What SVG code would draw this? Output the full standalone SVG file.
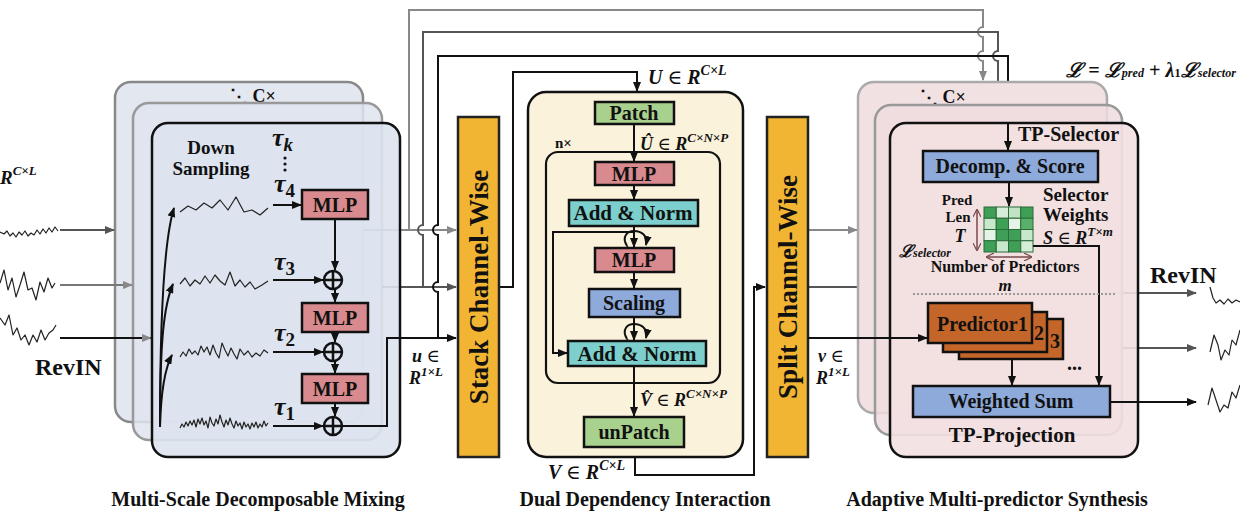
<svg xmlns="http://www.w3.org/2000/svg" width="1240" height="528" viewBox="0 0 1240 528">
<defs>
<marker id="ab" markerWidth="10" markerHeight="8" refX="9" refY="4" orient="auto" markerUnits="userSpaceOnUse"><path d="M0,0 L10,4 L0,8 z" fill="#111"/></marker>
<marker id="ag" markerWidth="10" markerHeight="8" refX="9" refY="4" orient="auto" markerUnits="userSpaceOnUse"><path d="M0,0 L10,4 L0,8 z" fill="#888"/></marker>
<marker id="ad" markerWidth="10" markerHeight="8" refX="9" refY="4" orient="auto" markerUnits="userSpaceOnUse"><path d="M0,0 L10,4 L0,8 z" fill="#555"/></marker>
<marker id="abr" markerWidth="8" markerHeight="8" refX="7" refY="4" orient="auto" markerUnits="userSpaceOnUse"><path d="M0,0 L8,4 L0,8" fill="none" stroke="#7a4a4a" stroke-width="1.2"/></marker>
<marker id="abs" markerWidth="8" markerHeight="8" refX="7" refY="4" orient="auto-start-reverse" markerUnits="userSpaceOnUse"><path d="M0,0 L8,4 L0,8" fill="none" stroke="#7a4a4a" stroke-width="1.2"/></marker>
<style>
.t{font-family:"Liberation Serif","Times New Roman",serif;font-weight:bold;fill:#111}
.m{font-family:"Liberation Serif","DejaVu Serif",serif;font-weight:bold;font-style:italic;fill:#111}
.c{text-anchor:middle}
.w{fill:none;stroke-width:2}
.k{stroke:#111}
.g{stroke:#888}
.d{stroke:#555}
.wave{fill:none;stroke:#222;stroke-width:1.2;stroke-linejoin:round}
.mlp{fill:#d98a8e;stroke:#111;stroke-width:2.5}
.grn{fill:#a9d18e;stroke:#111;stroke-width:2.5}
.teal{fill:#7ccfcc;stroke:#111;stroke-width:2.5}
.blu{fill:#8eaadb;stroke:#111;stroke-width:2.5}
.org{fill:#f2b533;stroke:#222;stroke-width:2.5}
.pred{fill:#c4662a;stroke:#111;stroke-width:2.5}
.sum{fill:none;stroke:#111;stroke-width:2.5}
</style>
</defs>

<g id="inputs">
<polyline class="wave" stroke-width="1.5" points="0,232 4,234 7,231 10,236 13,233 16,237 19,232 22,235 25,231 28,236 31,233 34,235 37,230 40,234 43,229 46,233 49,228 52,232 55,227 58,231"/>
<polyline class="wave" stroke-width="1.5" points="0,283 4,270 8,290 12,278 16,297 20,285 24,272 28,290 32,288 36,300 40,282 44,292 48,278 52,288 55,283"/>
<polyline class="wave" stroke-width="1.5" points="0,318 5,325 9,315 13,335 17,328 21,340 25,335 29,345 33,335 37,342 41,330 45,340 49,333 53,330 56,325"/>
<text class="m" x="0" y="184" font-size="19" font-weight="normal">R<tspan font-size="13" dy="-9">C×L</tspan></text>
<text class="t" x="35" y="375" font-size="24">RevIN</text>
</g>

<g id="left-back">
<rect x="115" y="82" width="248" height="340" rx="16" fill="#e3e7ef" stroke="#888" stroke-width="2.5"/>
<text class="t" x="230" y="102" font-size="18">⋱ C×</text>
</g>
<g id="left-mid">
<rect x="133" y="103" width="249" height="337" rx="16" fill="#dfe4ee" fill-opacity="0.85" stroke="#999" stroke-width="2.5"/>
</g>

<g id="connectors">
<line x1="60" y1="230" x2="114" y2="230" class="w d" marker-end="url(#ad)"/>
<line x1="60" y1="285" x2="132" y2="285" stroke="#777" stroke-width="2" marker-end="url(#ag)"/>
<line x1="60" y1="338" x2="151" y2="338" class="w k" marker-end="url(#ag)"/>
<line x1="363" y1="230" x2="456" y2="230" class="w g" marker-end="url(#ag)"/>
<line x1="382" y1="287" x2="456" y2="287" class="w d" marker-end="url(#ad)"/>
<path d="M409,230 V10 H983 V27 A5,5 0 0 0 983,37 V51 A5,5 0 0 0 983,61 V80" class="w g" marker-end="url(#ag)"/>
<path d="M423,287 V235 A5,5 0 0 1 423,225 V32 H998 V51 A5,5 0 0 0 998,61 V102" class="w d" marker-end="url(#ad)"/>
<path d="M438,338 V292 A5,5 0 0 1 438,282 V235 A5,5 0 0 1 438,225 V56 H1008 V150" class="w k" marker-end="url(#ab)"/>
<path d="M499,287 H513 V72 H637 V91" class="w k" marker-end="url(#ab)"/>
<path d="M635,447 V475 H754 V287 H765" class="w k" marker-end="url(#ab)"/>
<line x1="808" y1="230" x2="857" y2="230" class="w g" marker-end="url(#ag)"/>
<line x1="808" y1="287" x2="874" y2="287" class="w d" marker-end="url(#ad)"/>
<line x1="1107" y1="293" x2="1196" y2="293" class="w d" marker-end="url(#ad)"/>
<line x1="1122" y1="348" x2="1196" y2="348" class="w d" marker-end="url(#ad)"/>
</g>

<g id="left-front">
<rect x="152" y="123" width="248" height="334" rx="16" fill="#dde3ee" fill-opacity="0.9" stroke="#111" stroke-width="2.5"/>
<text class="t c" x="211" y="154" font-size="19">Down</text>
<text class="t c" x="211" y="175" font-size="19">Sampling</text>
<text class="m" x="272" y="146" font-size="26">τ<tspan font-size="19" dy="5">k</tspan></text>
<circle cx="285" cy="158" r="1.6" fill="#111"/><circle cx="285" cy="164" r="1.6" fill="#111"/><circle cx="285" cy="170" r="1.6" fill="#111"/>
<text class="m" x="274" y="192" font-size="26">τ<tspan font-size="19" font-style="normal" dy="5">4</tspan></text>
<text class="m" x="274" y="270" font-size="26">τ<tspan font-size="19" font-style="normal" dy="5">3</tspan></text>
<text class="m" x="274" y="341" font-size="26">τ<tspan font-size="19" font-style="normal" dy="5">2</tspan></text>
<text class="m" x="274" y="415" font-size="26">τ<tspan font-size="19" font-style="normal" dy="5">1</tspan></text>
<polyline class="wave" points="180,212 188,206 196,210 204,203 212,208 220,200 228,210 236,197 244,212 252,210 260,215 268,208"/>
<polyline class="wave" points="180,284 185,278 190,286 195,280 200,284 205,276 210,283 215,275 220,281 225,285 230,272 235,286 240,280 245,287 250,282 255,289 262,285 268,281"/>
<polyline class="wave" points="180,357 183,352 186,356 189,349 192,354 195,351 198,355 201,346 204,352 207,347 210,355 213,345 216,353 219,358 222,343 225,350 228,356 231,348 234,354 237,359 240,349 244,355 248,351 252,357 256,353 260,356 264,350 268,353"/>
<polyline class="wave" points="180,428 182,424 184,427 186,422 188,426 190,421 192,425 194,420 196,427 198,419 200,424 202,418 204,425 206,421 208,428 210,417 212,423 214,426 216,419 218,424 220,415 222,422 224,427 226,420 228,425 230,418 232,424 234,428 236,421 238,426 240,423 242,429 244,422 246,427 248,424 250,429 252,423 254,427 256,422 258,428 260,424 262,427 264,421 266,426 268,423"/>
<path d="M160,427 C160,320 164,240 174,208" class="w k" marker-end="url(#ab)"/>
<path d="M160,427 C160,340 164,305 173,284" class="w k" marker-end="url(#ab)"/>
<path d="M160,427 C161,390 165,368 172,355" class="w k" marker-end="url(#ab)"/>
<line x1="273" y1="205" x2="301" y2="205" class="w k" stroke-width="2.5" marker-end="url(#ab)"/>
<line x1="273" y1="280" x2="323" y2="280" class="w k" stroke-width="2.5" marker-end="url(#ab)"/>
<line x1="273" y1="352" x2="323" y2="352" class="w k" stroke-width="2.5" marker-end="url(#ab)"/>
<line x1="273" y1="426" x2="323" y2="426" class="w k" stroke-width="2.5" marker-end="url(#ab)"/>
</g>

<g id="mlp-left">
<rect class="mlp" x="302" y="190" width="66" height="29"/>
<text class="t c" x="335" y="212" font-size="20">MLP</text>
<rect class="mlp" x="302" y="303" width="66" height="29"/>
<text class="t c" x="335" y="325" font-size="20">MLP</text>
<rect class="mlp" x="302" y="374" width="66" height="29"/>
<text class="t c" x="335" y="396" font-size="20">MLP</text>
<line x1="335" y1="219" x2="335" y2="270" class="w k" stroke-width="2.5" marker-end="url(#ab)"/>
<line x1="335" y1="289" x2="335" y2="302" class="w k" stroke-width="2.5" marker-end="url(#ab)"/>
<line x1="335" y1="332" x2="335" y2="342" class="w k" stroke-width="2.5" marker-end="url(#ab)"/>
<line x1="335" y1="361" x2="335" y2="373" class="w k" stroke-width="2.5" marker-end="url(#ab)"/>
<line x1="335" y1="403" x2="335" y2="416" class="w k" stroke-width="2.5" marker-end="url(#ab)"/>
</g>
<g id="sums-left">
<circle class="sum" cx="333" cy="280" r="9"/><path d="M324,280 H342 M333,271 V289" class="sum"/>
<circle class="sum" cx="333" cy="352" r="9"/><path d="M324,352 H342 M333,343 V361" class="sum"/>
<circle class="sum" cx="333" cy="426" r="9"/><path d="M324,426 H342 M333,417 V435" class="sum"/>
<path d="M342,426 H387 V338 H456" class="w k" stroke-width="2.5" marker-end="url(#ab)"/>
</g>

<g id="u-label">
<text class="m" x="412" y="362" font-size="18">u <tspan font-style="normal" font-weight="normal">∈</tspan></text>
<text class="m" x="409" y="384" font-size="18">R<tspan font-size="13" dy="-8">1×L</tspan></text>
</g>

<g id="stack">
<rect class="org" x="458" y="117" width="41" height="340"/>
<text class="t c" transform="translate(488,287) rotate(-90)" font-size="27">Stack Channel-Wise</text>
</g>

<g id="dual">
<rect x="528" y="92" width="215" height="365" rx="18" fill="#fbf2dc" stroke="#111" stroke-width="2.5"/>
<text class="m" x="648" y="84" font-size="20">U <tspan font-style="normal" font-weight="normal">∈</tspan> R<tspan font-size="14" dy="-9">C×L</tspan></text>
<rect class="grn" x="595" y="102" width="79" height="22"/>
<text class="t c" x="634" y="120" font-size="20">Patch</text>
<line x1="634" y1="124" x2="634" y2="161" class="w k" stroke-width="2.5" marker-end="url(#ab)"/>
<text class="m" x="640" y="150" font-size="18">Û <tspan font-style="normal" font-weight="normal">∈</tspan> R<tspan font-size="13" dy="-8">C×N×P</tspan></text>
<text class="t" x="555" y="148" font-size="15">n×</text>
<rect x="546" y="152" width="174" height="231" rx="12" fill="none" stroke="#111" stroke-width="2.2"/>
<rect class="mlp" x="595" y="162" width="79" height="23"/>
<text class="t c" x="634" y="181" font-size="20">MLP</text>
<line x1="634" y1="185" x2="634" y2="199" class="w k" stroke-width="2.5" marker-end="url(#ab)"/>
<rect class="teal" x="569" y="200" width="129" height="26"/>
<text class="t c" x="633" y="220" font-size="21">Add &amp; Norm</text>
<line x1="634" y1="226" x2="634" y2="247" class="w k" stroke-width="2.5" marker-end="url(#ab)"/>
<path d="M627,246 C621,236 628,231 634,231" class="w k" stroke-width="1.8" marker-start="url(#ab)"/>
<path d="M634,231 C641,231 648,235 646,245" class="w k" stroke-width="1.8" marker-end="url(#ab)"/>
<path d="M634,232 H553 V353 H567" class="w k" stroke-width="2.5" marker-end="url(#ab)"/>
<rect class="mlp" x="595" y="248" width="79" height="24"/>
<text class="t c" x="634" y="267" font-size="20">MLP</text>
<line x1="634" y1="272" x2="634" y2="288" class="w k" stroke-width="2.5" marker-end="url(#ab)"/>
<rect class="blu" x="589" y="289" width="91" height="28"/>
<text class="t c" x="634" y="310" font-size="20">Scaling</text>
<line x1="634" y1="317" x2="634" y2="340" class="w k" stroke-width="2.5" marker-end="url(#ab)"/>
<path d="M627,339 C621,329 628,324 634,324" class="w k" stroke-width="1.8" marker-start="url(#ab)"/>
<path d="M634,324 C641,324 648,328 646,338" class="w k" stroke-width="1.8" marker-end="url(#ab)"/>
<rect class="teal" x="568" y="341" width="138" height="25"/>
<text class="t c" x="637" y="361" font-size="21">Add &amp; Norm</text>
<line x1="634" y1="366" x2="634" y2="416" class="w k" stroke-width="2.5" marker-end="url(#ab)"/>
<text class="m" x="640" y="406" font-size="18">V̂ <tspan font-style="normal" font-weight="normal">∈</tspan> R<tspan font-size="13" dy="-8">C×N×P</tspan></text>
<rect class="grn" x="584" y="417" width="100" height="30"/>
<text class="t c" x="634" y="439" font-size="20">unPatch</text>
<text class="m" x="548" y="479" font-size="20">V <tspan font-style="normal" font-weight="normal">∈</tspan> R<tspan font-size="14" dy="-9">C×L</tspan></text>
</g>

<g id="split">
<rect class="org" x="767" y="117" width="41" height="340"/>
<text class="t c" transform="translate(797,287) rotate(-90)" font-size="27">Split Channel-Wise</text>
<text class="m" x="818" y="362" font-size="18">v <tspan font-style="normal" font-weight="normal">∈</tspan></text>
<text class="m" x="816" y="384" font-size="18">R<tspan font-size="13" dy="-8">1×L</tspan></text>
</g>

<g id="right-back">
<rect x="858" y="82" width="249" height="331" rx="16" fill="#f1e1e3" stroke="#aaa" stroke-width="2.5"/>
<text class="t" x="920" y="103" font-size="18">⋱ C×</text>
</g>
<g id="right-mid">
<rect x="875" y="105" width="247" height="330" rx="16" fill="#f0dcdf" fill-opacity="0.85" stroke="#999" stroke-width="2.5"/>
</g>
<g id="right-front">
<rect x="890" y="123" width="248" height="334" rx="16" fill="#f3e0e1" fill-opacity="0.9" stroke="#111" stroke-width="2.5"/>
<line x1="1008" y1="123" x2="1008" y2="150" class="w k" marker-end="url(#ab)"/>
<text class="t" x="1018" y="141" font-size="20">TP-Selector</text>
<rect class="blu" x="923" y="151" width="175" height="31"/>
<text class="t c" x="1010" y="173" font-size="20">Decomp. &amp; Score</text>
<line x1="1009" y1="182" x2="1009" y2="206" class="w k" stroke-width="2.5" marker-end="url(#ab)"/>
<g stroke="#2b6b3a" stroke-width="1">
<rect x="984" y="207" width="12.25" height="11.25" fill="#3f9f57"/><rect x="996.25" y="207" width="12.25" height="11.25" fill="#d6eed8"/><rect x="1008.5" y="207" width="12.25" height="11.25" fill="#bfe3c3"/><rect x="1020.75" y="207" width="12.25" height="11.25" fill="#3f9f57"/>
<rect x="984" y="218.25" width="12.25" height="11.25" fill="#c8e8cb"/><rect x="996.25" y="218.25" width="12.25" height="11.25" fill="#3f9f57"/><rect x="1008.5" y="218.25" width="12.25" height="11.25" fill="#e6f4e7"/><rect x="1020.75" y="218.25" width="12.25" height="11.25" fill="#58b06b"/>
<rect x="984" y="229.5" width="12.25" height="11.25" fill="#e6f4e7"/><rect x="996.25" y="229.5" width="12.25" height="11.25" fill="#3f9f57"/><rect x="1008.5" y="229.5" width="12.25" height="11.25" fill="#3f9f57"/><rect x="1020.75" y="229.5" width="12.25" height="11.25" fill="#c8e8cb"/>
<rect x="984" y="240.75" width="12.25" height="11.25" fill="#3f9f57"/><rect x="996.25" y="240.75" width="12.25" height="11.25" fill="#c8e8cb"/><rect x="1008.5" y="240.75" width="12.25" height="11.25" fill="#3f9f57"/><rect x="1020.75" y="240.75" width="12.25" height="11.25" fill="#d6eed8"/>
</g>
<line x1="977" y1="210" x2="977" y2="250" stroke="#7a4a4a" stroke-width="1.5" marker-start="url(#abs)" marker-end="url(#abr)"/>
<line x1="987" y1="257" x2="1031" y2="257" stroke="#7a4a4a" stroke-width="1.5" marker-start="url(#abs)" marker-end="url(#abr)"/>
<text class="t c" x="957" y="205" font-size="15">Pred</text>
<text class="t c" x="958" y="222" font-size="15">Len</text>
<text class="m c" x="960" y="242" font-size="18">T</text>
<text class="t" x="1043" y="201" font-size="19">Selector</text>
<text class="t" x="1043" y="221" font-size="19">Weights</text>
<text class="m" x="1043" y="244" font-size="18">S <tspan font-style="normal" font-weight="normal">∈</tspan> R<tspan font-size="13" dy="-8">T×m</tspan></text>
<text class="m" x="899" y="257" font-size="17">ℒ<tspan font-size="12">selector</tspan></text>
<text class="t c" x="1005" y="272" font-size="16">Number of Predictors</text>
<text class="m c" x="1005" y="291" font-size="17">m</text>
<path d="M1033,246 H1099 V385" class="w k" marker-end="url(#ab)"/>
<line x1="913" y1="294" x2="1117" y2="294" stroke="#999" stroke-width="2" stroke-dasharray="2,2"/>
<rect class="pred" x="959" y="319" width="104" height="40"/>
<rect class="pred" x="943" y="312" width="104" height="40"/>
<rect class="pred" x="928" y="303" width="104" height="40"/>
<text class="t" x="937" y="331" font-size="20" fill="#3a1a0a">Predictor1</text>
<text class="t" x="1034" y="340" font-size="20">2</text>
<text class="t" x="1050" y="348" font-size="20">3</text>
<text class="t" x="1067" y="370" font-size="20">...</text>
<line x1="1012" y1="359" x2="1012" y2="385" class="w k" marker-end="url(#ab)"/>
<rect class="blu" x="913" y="386" width="197" height="31"/>
<text class="t c" x="1011" y="408" font-size="20">Weighted Sum</text>
<text class="t c" x="1012" y="442" font-size="21">TP-Projection</text>
</g>

<g id="pred-in">
<line x1="808" y1="338" x2="927" y2="338" class="w k" marker-end="url(#ab)"/>
<line x1="1110" y1="402" x2="1196" y2="402" class="w k" marker-end="url(#ab)"/>
</g>

<g id="outputs">
<text class="t" x="1150" y="283" font-size="24">RevIN</text>
<polyline class="wave" stroke-width="1.5" points="1210,287 1213,298 1216,303 1220,300 1224,304 1228,299 1232,303 1236,300 1240,302"/>
<polyline class="wave" stroke-width="1.5" points="1210,352 1214,335 1218,345 1221,360 1225,350 1229,355 1232,340 1236,345 1240,330"/>
<polyline class="wave" stroke-width="1.5" points="1208,405 1212,388 1216,400 1220,412 1224,405 1228,408 1232,392 1236,398 1240,385"/>
<text class="m" x="1066" y="77" font-size="20" textLength="170" lengthAdjust="spacingAndGlyphs">ℒ <tspan font-style="normal">=</tspan> ℒ<tspan font-size="12">pred</tspan> <tspan font-style="normal">+</tspan> λ<tspan font-size="12" font-style="normal">1</tspan>ℒ<tspan font-size="12">selector</tspan></text>
</g>

<g id="captions">
<text class="t c" x="258" y="506" font-size="20">Multi-Scale Decomposable Mixing</text>
<text class="t c" x="645" y="506" font-size="20">Dual Dependency Interaction</text>
<text class="t c" x="997" y="506" font-size="20">Adaptive Multi-predictor Synthesis</text>
</g>
</svg>
